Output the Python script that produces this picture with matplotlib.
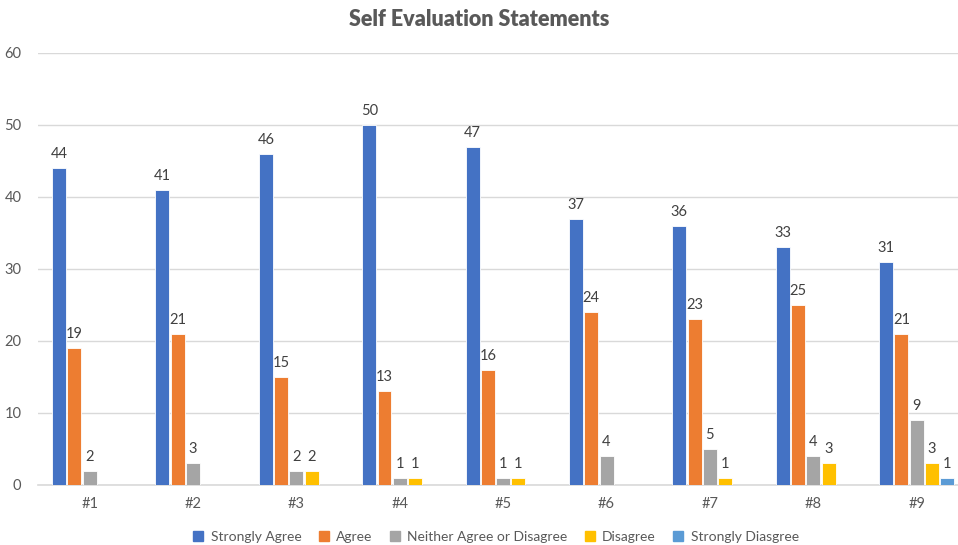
import numpy as np
import matplotlib.pyplot as plt
from matplotlib.lines import Line2D

plt.rcParams['font.family'] = ['Lato', 'DejaVu Sans']

statements = ["#1", "#2", "#3", "#4", "#5", "#6", "#7", "#8", "#9"]
series_names = ["Strongly Agree", "Agree", "Neither Agree or Disagree",
                "Disagree", "Strongly Diasgree"]
strongly_agree = [44, 41, 46, 50, 47, 37, 36, 33, 31]
agree = [19, 21, 15, 13, 16, 24, 23, 25, 21]
neither = [2, 3, 2, 1, 1, 4, 5, 4, 9]
disagree = [0, 0, 2, 1, 1, 0, 1, 3, 3]
strongly_disagree = [0, 0, 0, 0, 0, 0, 0, 0, 1]

colors = ["#4472C4", "#ED7D31", "#A5A5A5", "#FFC000", "#5B9BD5"]
all_series = [strongly_agree, agree, neither, disagree, strongly_disagree]

fig = plt.figure(figsize=(9.58, 5.45), dpi=100)
ax = fig.add_axes([38 / 958, 1 - 485 / 545, 1 - 38 / 958, (485 - 53) / 545])

x = np.arange(len(statements))
step = 0.148
width = 0.135
for k, (vals, col) in enumerate(zip(all_series, colors)):
    bars = ax.bar(x + (k - 2) * step, vals, width, color=col, zorder=3,
                  edgecolor="white", linewidth=0.6)
    labels = [str(v) if v > 0 else "" for v in vals]
    ax.bar_label(bars, labels=labels, padding=5, fontsize=10.5, color="#404040")

ax.set_ylim(0, 60)
ax.set_xlim(-0.5, 8.4)
ax.set_yticks(range(0, 61, 10))
ax.set_xticks(x)
ax.set_xticklabels(statements)
ax.yaxis.grid(True, color="#D9D9D9", linewidth=1)
ax.set_axisbelow(True)
for s in ["top", "right", "left"]:
    ax.spines[s].set_visible(False)
ax.spines["bottom"].set_color("#D9D9D9")
ax.spines["bottom"].set_linewidth(1.2)
ax.tick_params(axis="both", length=0, labelsize=10.5, colors="#595959")
ax.tick_params(axis="x", pad=9)
ax.tick_params(axis="y", pad=12)

fig.text(0.5, 1 - 20 / 545, "Self Evaluation Statements", ha="center", va="center",
         fontsize=15.5, fontweight="heavy", color="#595959")

handles = [Line2D([], [], marker="s", linestyle="", markersize=7, color=c) for c in colors]
fig.legend(handles, series_names, loc="center", bbox_to_anchor=(0.513, 1 - 537 / 545),
           ncol=5, frameon=False, fontsize=10, handletextpad=-0.1, columnspacing=0.6,
           labelcolor="#595959")

fig.savefig("out.png", dpi=100)
